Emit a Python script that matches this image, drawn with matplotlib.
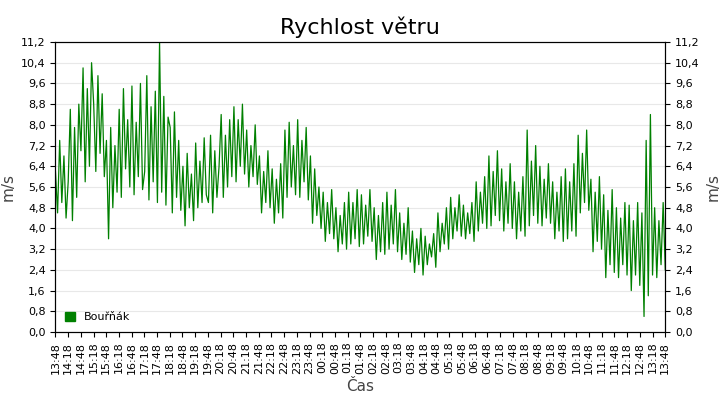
import matplotlib
matplotlib.use("Agg")
import matplotlib.pyplot as plt
import numpy as np
from matplotlib.ticker import FuncFormatter, MultipleLocator

# wind speed samples, 6 per 30-minute slot, starting 13:48
speed = [
 6.2,4.6,7.4,5.0,6.8,4.4,   5.8,8.6,4.3,7.9,5.2,8.8,
 7.0,10.2,5.8,9.4,6.4,10.4, 8.8,6.2,9.9,6.9,9.2,6.0,
 7.4,3.6,7.9,4.8,7.2,5.4,   8.6,5.2,9.4,6.3,8.2,5.6,
 9.5,5.3,8.1,6.0,9.6,5.5,   6.2,9.9,5.1,8.7,5.8,9.3,
 5.0,11.2,5.4,9.1,4.9,8.3,  7.9,4.6,8.5,5.2,7.4,4.7,
 6.4,4.1,6.9,4.8,6.1,4.3,   7.3,4.8,6.6,5.0,7.5,5.3,
 5.0,7.6,4.6,7.0,5.2,6.4,   8.4,5.2,7.6,5.6,8.2,6.0,
 8.7,5.8,8.2,6.4,8.8,6.1,   7.8,5.6,7.2,6.0,8.0,5.7,
 6.8,4.6,6.2,5.0,7.0,4.8,   6.3,4.2,5.9,4.6,6.5,4.4,
 7.8,5.2,8.1,5.6,7.2,5.3,   8.2,5.2,7.4,5.8,7.9,5.1,
 6.8,4.2,6.3,4.5,5.6,4.0,   5.4,3.5,5.0,3.8,5.5,3.6,
 4.8,3.1,4.5,3.4,5.0,3.2,   5.4,3.4,5.0,3.6,5.5,3.3,
 5.3,3.4,4.9,3.7,5.5,3.5,   4.8,2.8,4.5,3.1,5.0,3.0,
 5.4,3.2,4.9,3.4,5.5,3.1,   4.6,2.8,4.2,3.0,4.8,2.7,
 3.9,2.3,3.6,2.6,4.0,2.2,   3.7,2.6,3.4,2.9,3.8,2.5,
 4.6,3.1,4.2,3.4,4.8,3.2,   5.2,3.6,4.8,3.9,5.3,3.7,
 4.9,3.6,4.6,3.8,5.0,3.5,   5.8,3.9,5.4,4.2,6.0,4.0,
 6.8,4.1,6.2,4.5,7.0,4.3,   6.3,3.9,5.8,4.2,6.5,4.0,
 5.8,3.6,5.4,3.9,6.0,3.7,   7.8,4.1,6.6,4.5,7.2,4.2,
 6.4,4.1,5.9,4.4,6.5,4.2,   5.8,3.6,5.4,3.9,6.0,3.5,
 6.3,3.6,5.8,3.9,6.5,3.7,   7.6,4.6,6.9,5.0,7.8,4.7,
 5.9,3.1,5.4,3.5,6.0,3.2,   5.3,2.1,4.7,2.6,5.5,2.3,
 4.8,2.1,4.4,2.6,5.0,2.2,   4.9,1.6,4.3,2.2,5.0,1.8,
 4.6,0.6,7.4,1.4,8.4,2.2,   4.8,2.1,4.3,2.6,5.0,2.4,
]
n = len(speed)
t = np.linspace(0, 48, n)  # half-hour units from 13:48

labels = []
for i in range(49):
    m = 13*60+48 + 30*i
    m %= 1440
    labels.append(f"{m//60:02d}:{m%60:02d}")

fig = plt.figure(figsize=(7.2, 4.0), dpi=100)
ax = fig.add_axes([0.077, 0.17, 0.847, 0.725])
ax.plot(t, speed, color="#008000", lw=0.9, label="Bouřňák")
ax.set_xlim(0, 48)
ax.set_ylim(0, 11.2)
ax.yaxis.set_major_locator(MultipleLocator(0.8))
fmt = FuncFormatter(lambda v, p: f"{v:.1f}".replace(".", ","))
ax.yaxis.set_major_formatter(fmt)
ax.set_xticks(range(49))
ax.set_xticklabels(labels, rotation=90, fontsize=8)
ax.tick_params(axis="y", labelsize=8)
ax.grid(axis="y", color="#e8e8e8", lw=0.8)
ax.set_axisbelow(True)
ax2 = ax.twinx()
ax2.set_ylim(0, 11.2)
ax2.yaxis.set_major_locator(MultipleLocator(0.8))
ax2.yaxis.set_major_formatter(fmt)
ax2.tick_params(axis="y", labelsize=8)
ax.set_ylabel("m/s", fontsize=11, color="#444444")
ax2.set_ylabel("m/s", fontsize=11, color="#444444")
ax.set_xlabel("Čas", fontsize=11, color="#444444")
ax.set_title("Rychlost větru", fontsize=16)
from matplotlib.patches import Patch
ax.legend(handles=[Patch(color="#008000", label="Bouřňák")], loc="lower left",
          frameon=False, fontsize=8, handlelength=0.9, handleheight=0.9)
fig.savefig("out.png", dpi=100)
